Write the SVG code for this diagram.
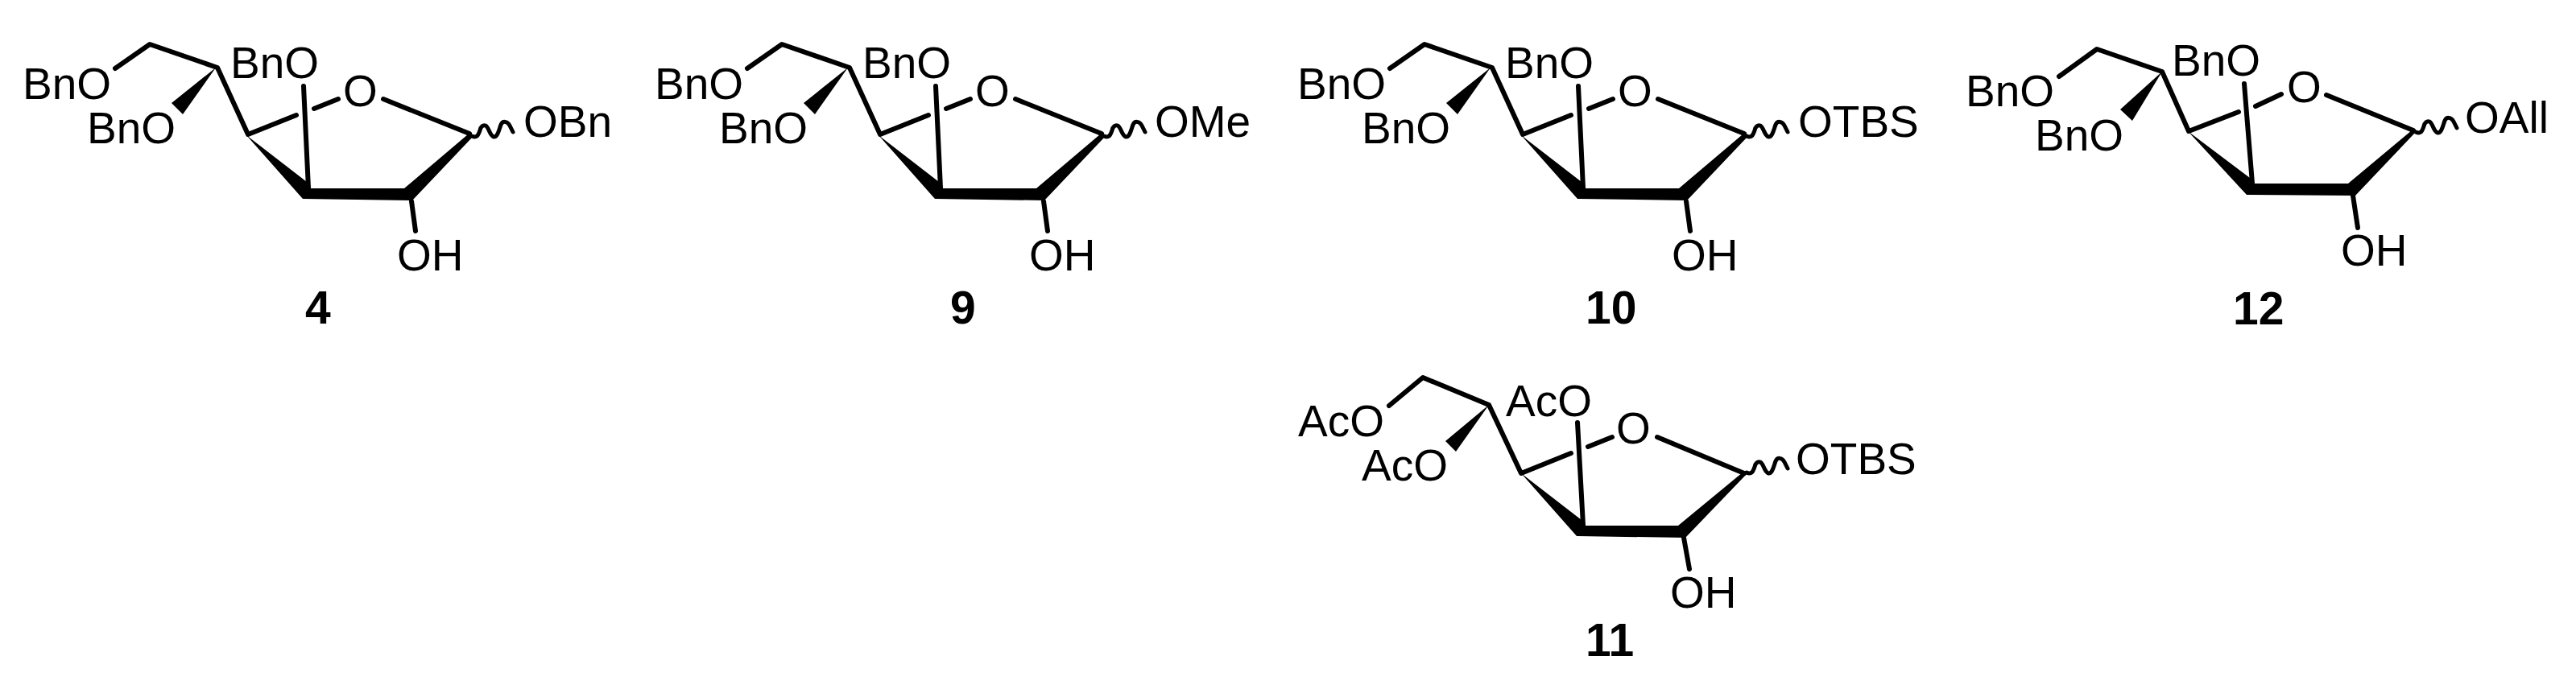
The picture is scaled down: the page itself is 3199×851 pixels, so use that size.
<svg xmlns="http://www.w3.org/2000/svg" width="3199" height="851" viewBox="0 0 3199 851">
<style>
text{font-family:"Liberation Sans",Arial,sans-serif;font-size:55px;fill:#000}
.n{font-weight:700;font-size:57px}
.b{fill:none;stroke:#000;stroke-width:6;stroke-linecap:round;stroke-linejoin:round}
.w{fill:none;stroke:#000;stroke-width:5;stroke-linecap:round;stroke-linejoin:round}
.f{fill:#000;stroke:none}
</style>
<defs>
<path id="wavy" class="w" d="M0 0C6 3 8 -1 10 -7C11 -12 14 -14 17 -13C21 -11 22 -1 27 1C32 2 34 -9 36 -14C38 -19 44 -19 47 -13L51 -5"/>
<g id="sk">
<path class="b" d="M143 85L186 55L270 84L308 167L368 143M390 135L420 123M476 123L583 166M377 107L383 234M511 250L516 287"/>
<path class="f" d="M268 84L213 128L227 142Z"/>
<path class="f" d="M306 168L381 226L386 234L502 234L581 167L587 170L512 249L376 247Z"/>
<use href="#wavy" transform="translate(586 169)"/>
</g>
</defs>
<rect width="3199" height="851" fill="#fff"/>
<g id="connectors">
<use href="#sk"/>
<use href="#sk" x="785"/>
<use href="#sk" x="1583"/>
<g id="bonds-11">
<path class="b" d="M1725 504L1767 469L1849 503L1889 588L1951 563M1972 555L2002 543M2058 543L2166 588M1959 525L1966 653M2091 668L2098 707"/>
<path class="f" d="M1849 503L1795 548L1808 561Z"/>
<path class="f" d="M1889 588L1964 646L1969 653L2084 653L2164 587L2168 590L2093 668L1958 666Z"/>
<use href="#wavy" transform="translate(2169 587)"/>
</g>
<g id="bonds-12">
<path class="b" d="M2557 95L2604 61L2685 89L2718 163L2780 139M2801 132L2833 117M2889 118L2997 162M2787 104L2797 228M2922 243L2928 283"/>
<path class="f" d="M2685 89L2633 136L2648 150Z"/>
<path class="f" d="M2717 163L2794 221L2799 228L2916 228L2995 162L2999 165L2925 243L2790 242Z"/>
<use href="#wavy" transform="translate(3000 164)"/>
</g>
</g>
<g id="compound-4">
<text x="28" y="123">BnO</text><text x="108" y="178">BnO</text><text x="286" y="97">BnO</text><text x="426" y="132">O</text><text x="650" y="170">OBn</text><text x="493" y="336">OH</text><text class="n" x="379" y="402">4</text>
</g>
<g id="compound-9">
<text x="813" y="123">BnO</text><text x="893" y="178">BnO</text><text x="1071" y="97">BnO</text><text x="1211" y="132">O</text><text x="1434" y="170">OMe</text><text x="1278" y="336">OH</text><text class="n" x="1180" y="402">9</text>
</g>
<g id="compound-10">
<text x="1611" y="123">BnO</text><text x="1691" y="178">BnO</text><text x="1869" y="97">BnO</text><text x="2009" y="132">O</text><text x="2233" y="170">OTBS</text><text x="2076" y="336">OH</text><text class="n" x="1969" y="402">10</text>
</g>
<g id="compound-11">
<text x="1612" y="542">AcO</text><text x="1691" y="597">AcO</text><text x="1870" y="517">AcO</text><text x="2007" y="551">O</text><text x="2230" y="589">OTBS</text><text x="2074" y="755">OH</text><text class="n" x="1969" y="815">11</text>
</g>
<g id="compound-12">
<text x="2441" y="132">BnO</text><text x="2527" y="187">BnO</text><text x="2697" y="94">BnO</text><text x="2840" y="127">O</text><text x="3061" y="165">OAll</text><text x="2907" y="330">OH</text><text class="n" x="2773" y="403">12</text>
</g>
</svg>
